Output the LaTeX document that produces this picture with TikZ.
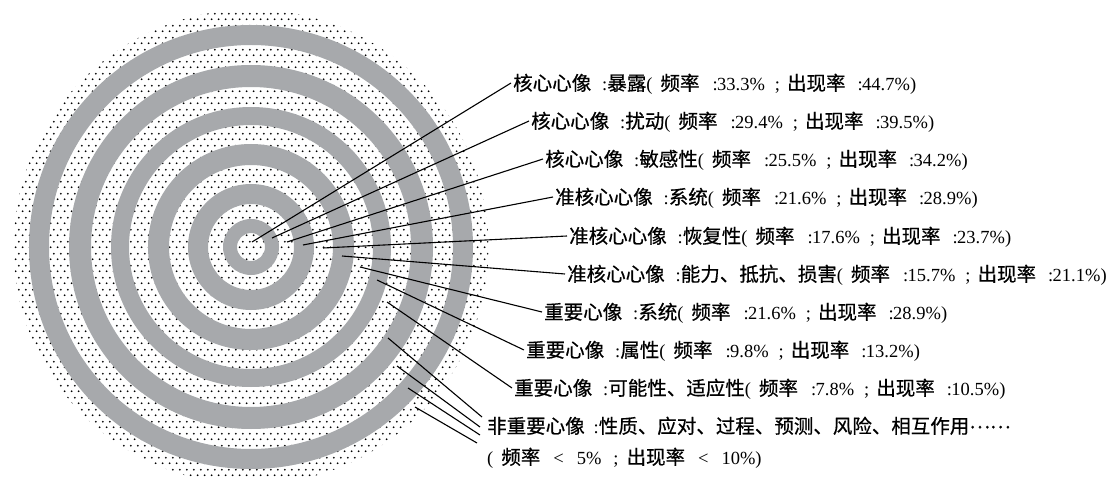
\documentclass[tikz,border=0pt]{standalone}
\usepackage{fontspec}
\setmainfont{Liberation Serif}
\newfontfamily\cjk[FakeBold=0.6]{Noto Sans CJK SC}
\usetikzlibrary{patterns,calc}
\pgfdeclarepatternformonly{ringdots}{\pgfpointorigin}{\pgfpoint{7.2pt}{12pt}}{\pgfpoint{7.2pt}{12pt}}{%
  \pgfpathcircle{\pgfpoint{1.8pt}{3pt}}{1.05pt}%
  \pgfpathcircle{\pgfpoint{5.4pt}{9pt}}{1.05pt}%
  \pgfusepath{fill}}
\definecolor{ringgray}{RGB}{167,169,172}
\newcommand{\C}[1]{{\cjk\fontsize{19.5pt}{22pt}\selectfont #1}}
\newcommand{\lbl}[4]{\C{#1}\hspace{11pt}:\C{#2}(\hspace{8pt}\C{频率}\hspace{13pt}:\kern-0.5pt#3\%\hspace{10pt};\hspace{7pt}\C{出现率}\hspace{12pt}:\kern-0.5pt#4\%)}
\tikzset{
  lab/.style={anchor=west, inner sep=2pt, text height=17pt, text depth=2.5pt, font=\fontsize{18.5pt}{22pt}\selectfont},
  leader/.style={line width=1.1pt, black}
}
\begin{document}
\begin{tikzpicture}[x=1pt,y=-1pt]
\useasboundingbox (0,0) rectangle (1110,478);
\fill[white] (0,0) rectangle (1110,478);
\coordinate (c) at (251,247);
\begin{scope}
\clip (0,0) rectangle (1110,478);
\fill[white] (c) circle[radius=237.5pt];
\fill[pattern=ringdots, pattern color=black] (c) circle[radius=237.5pt];
\fill[ringgray, even odd rule] (c) circle[radius=222pt] (c) circle[radius=202pt];
\fill[ringgray, even odd rule] (c) circle[radius=182pt] (c) circle[radius=160pt];
\fill[ringgray, even odd rule] (c) circle[radius=140pt] (c) circle[radius=122pt];
\fill[ringgray, even odd rule] (c) circle[radius=103pt] (c) circle[radius=82pt];
\fill[ringgray, even odd rule] (c) circle[radius=63pt] (c) circle[radius=43pt];
\fill[ringgray, even odd rule] (c) circle[radius=28pt] (c) circle[radius=14pt];
\end{scope}
% labels
\node[lab] (l1) at (511,83) {\lbl{核心心像}{暴露}{33.3}{44.7}};
\node[lab] (l2) at (529,121) {\lbl{核心心像}{扰动}{29.4}{39.5}};
\node[lab] (l3) at (543,159) {\lbl{核心心像}{敏感性}{25.5}{34.2}};
\node[lab] (l4) at (553,197) {\lbl{准核心心像}{系统}{21.6}{28.9}};
\node[lab] (l5) at (567,236) {\lbl{准核心心像}{恢复性}{17.6}{23.7}};
\node[lab] (l6) at (565,274) {\lbl{准核心心像}{能力、抵抗、损害}{15.7}{21.1}};
\node[lab] (l7) at (542,312) {\lbl{重要心像}{系统}{21.6}{28.9}};
\node[lab] (l8) at (524,350) {\lbl{重要心像}{属性}{9.8}{13.2}};
\node[lab] (l9) at (512,388) {\lbl{重要心像}{可能性、适应性}{7.8}{10.5}};
\node[lab] (l10) at (485,426) {\C{非重要心像}\hspace{9pt}:\C{性质、应对、过程、预测、风险、相互作用\raisebox{5pt}{……}}};
\node[lab] (l11) at (485,457) {(\hspace{8pt}\C{频率}\hspace{13pt}\textless\hspace{13pt}5\%\hspace{12pt};\hspace{8pt}\C{出现率}\hspace{13pt}\textless\hspace{13pt}10\%)};
% ring points
\coordinate (p1) at (252,242);
\coordinate (p2) at (272,238);
\coordinate (p3) at (287,242);
\coordinate (p4) at (303,245);
\coordinate (p5) at (323,248);
\coordinate (p6) at (342,256);
\coordinate (p7) at (360,267);
\coordinate (p8) at (377,280);
\coordinate (p9) at (387,302);
\coordinate (p10a) at (388,338);
\coordinate (p10b) at (397,366);
\coordinate (p10c) at (408,388);
\coordinate (p10d) at (415,407);
\draw[leader] (p1) -- (l1.west);
\draw[leader] (p2) -- (l2.west);
\draw[leader] (p3) -- (l3.west);
\draw[leader] (p4) -- (l4.west);
\draw[leader] (p5) -- (l5.west);
\draw[leader] (p6) -- (l6.west);
\draw[leader] (p7) -- (l7.west);
\draw[leader] (p8) -- (l8.west);
\draw[leader] (p9) -- (l9.west);
\draw[leader] (p10a) -- ($(l10.west)+(-3,-9)$);
\draw[leader] (p10b) -- ($(l10.west)+(-5,1)$);
\draw[leader] (p10c) -- ($(l10.west)+(-5,9)$);
\draw[leader] (p10d) -- ($(l10.west)+(-8,17)$);
\end{tikzpicture}
\end{document}
